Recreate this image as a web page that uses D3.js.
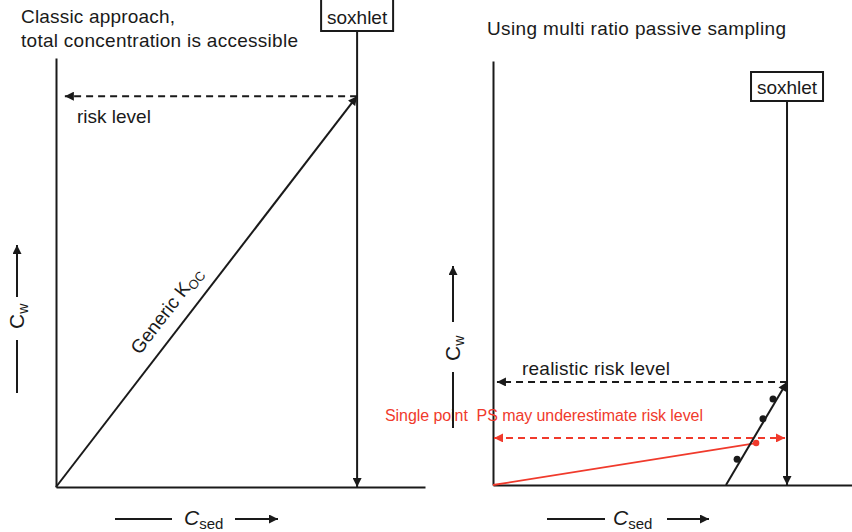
<!DOCTYPE html>
<html>
<head>
<meta charset="utf-8">
<script src="https://cdn.jsdelivr.net/npm/d3@7"></script>
<style>
  body { margin: 0; background: #fff; }
  text { font-family: "Liberation Sans", Arial, sans-serif; fill: #1a1a1a; white-space: pre; }
</style>
</head>
<body>
<div id="chart"></div>
<script>
// titles
const leftTitle = ["Classic approach,", "total concentration is accessible"];
const rightTitle = ["Using multi ratio passive sampling"];

// left panel (Csed, Cw in % of axis)
const leftSoxhletCsed = 81.6;
const leftRiskCw = 91.1;
const leftRiskArrowEnd = 2.4;
const kocLine = [[0, 0], [81.6, 91.1]];

// right panel
const rightSoxhletCsed = 81.9;
const realisticRiskCw = 24.3;
const realisticArrowEnd = 1.1;
const singlePointRiskCw = 11.1;
const multiRatioLine = [[64.9, 0], [81.9, 24.3]];
const multiRatioPoints = [[68.0, 6.1], [75.2, 15.6], [78.0, 20.3]];
const singlePointPS = [73.3, 9.9];

const ink = "#1a1a1a";
const red = "#f03a2c";

const drawChart = () => {
  const chartSize = { width: 852, height: 532 };
  const svg = d3.select("#chart").append("svg")
    .attr("width", chartSize.width)
    .attr("height", chartSize.height);

  const defs = svg.append("defs");
  const addMarker = (id, color) => {
    defs.append("marker")
      .attr("id", id)
      .attr("viewBox", "0 0 10 10")
      .attr("refX", 10).attr("refY", 5)
      .attr("markerWidth", 10).attr("markerHeight", 9)
      .attr("markerUnits", "userSpaceOnUse")
      .attr("orient", "auto-start-reverse")
      .append("path")
      .attr("d", "M0,0L10,5L0,10z")
      .attr("fill", color);
  };
  addMarker("arrow", ink);
  addMarker("arrow-red", red);

  const line = d3.line();

  // left panel
  const xL = d3.scaleLinear().domain([0, 100]).range([56, 425]);
  const yL = d3.scaleLinear().domain([0, 100]).range([487, 58]);

  // right panel
  const xR = d3.scaleLinear().domain([0, 100]).range([493, 852]);
  const yR = d3.scaleLinear().domain([0, 100]).range([485, 61]);

  const panels = [
    { x: xL, y: yL, title: leftTitle, titleX: 21, titleY: 23, widths: [154, 277] },
    { x: xR, y: yR, title: rightTitle, titleX: 487, titleY: 35, widths: [299] }
  ];

  panels.forEach(p => {
    const g = svg.append("g");
    g.append("g")
      .attr("transform", `translate(0,${p.y(0)})`)
      .call(d3.axisBottom(p.x).ticks(0).tickSizeOuter(0));
    g.append("g")
      .attr("transform", `translate(${p.x(0)},0)`)
      .call(d3.axisLeft(p.y).ticks(0).tickSizeOuter(0));
    g.selectAll(".domain").attr("stroke", ink).attr("stroke-width", 2);

    g.selectAll(".title").data(p.title).enter()
      .append("text")
      .attr("x", p.titleX)
      .attr("y", (d, i) => p.titleY + i * 24)
      .attr("font-size", 19)
      .attr("textLength", (d, i) => p.widths[i])
      .attr("lengthAdjust", "spacing")
      .text(d => d);
  });

  // soxhlet box + vertical arrow
  const soxhlet = (x, y, sox, boxTop, boxH) => {
    const cx = x(sox);
    svg.append("line")
      .attr("x1", cx).attr("x2", cx)
      .attr("y1", boxTop + boxH).attr("y2", y(0))
      .attr("stroke", ink).attr("stroke-width", 2)
      .attr("marker-end", "url(#arrow)");
    svg.append("rect")
      .attr("x", cx - 36).attr("y", boxTop)
      .attr("width", 72).attr("height", boxH)
      .attr("fill", "#fff").attr("stroke", ink).attr("stroke-width", 2);
    svg.append("text")
      .attr("x", cx).attr("y", boxTop + boxH - 7)
      .attr("text-anchor", "middle")
      .attr("font-size", 19)
      .text("soxhlet");
  };
  soxhlet(xL, yL, leftSoxhletCsed, -1, 32);
  soxhlet(xR, yR, rightSoxhletCsed, 72, 29);

  // left: risk level
  svg.append("line")
    .attr("x1", xL(leftSoxhletCsed)).attr("x2", xL(leftRiskArrowEnd))
    .attr("y1", yL(leftRiskCw)).attr("y2", yL(leftRiskCw))
    .attr("stroke", ink).attr("stroke-width", 2)
    .attr("stroke-dasharray", "7,5")
    .attr("marker-end", "url(#arrow)");
  svg.append("text")
    .attr("x", 77).attr("y", yL(leftRiskCw) + 27)
    .attr("font-size", 19)
    .text("risk level");

  // generic Koc line
  svg.append("path")
    .attr("d", line(kocLine.map(d => [xL(d[0]), yL(d[1])])))
    .attr("fill", "none").attr("stroke", ink).attr("stroke-width", 2)
    .attr("marker-end", "url(#arrow)");
  const k0 = [xL(kocLine[0][0]), yL(kocLine[0][1])];
  const k1 = [xL(kocLine[1][0]), yL(kocLine[1][1])];
  const ang = Math.atan2(k1[1] - k0[1], k1[0] - k0[0]) * 180 / Math.PI;
  const t = 0.42;
  const kocLabel = svg.append("text")
    .attr("transform", `translate(${k0[0] + t * (k1[0] - k0[0])},${k0[1] + t * (k1[1] - k0[1])}) rotate(${ang})`)
    .attr("y", -14)
    .attr("text-anchor", "middle")
    .attr("font-size", 19);
  kocLabel.append("tspan").text("Generic K");
  kocLabel.append("tspan").attr("font-size", 13).attr("dy", 4).text("OC");

  // right: realistic risk level
  svg.append("line")
    .attr("x1", xR(rightSoxhletCsed)).attr("x2", xR(realisticArrowEnd))
    .attr("y1", yR(realisticRiskCw)).attr("y2", yR(realisticRiskCw))
    .attr("stroke", ink).attr("stroke-width", 2)
    .attr("stroke-dasharray", "7,5")
    .attr("marker-end", "url(#arrow)");
  svg.append("text")
    .attr("x", 522).attr("y", yR(realisticRiskCw) - 7)
    .attr("font-size", 19)
    .attr("textLength", 148)
    .attr("lengthAdjust", "spacing")
    .text("realistic risk level");

  // single point PS
  svg.append("text")
    .attr("x", 385).attr("y", yR(singlePointRiskCw) - 17)
    .attr("font-size", 16)
    .attr("textLength", 318)
    .attr("lengthAdjust", "spacing")
    .style("fill", red)
    .text("Single point  PS may underestimate risk level");
  svg.append("line")
    .attr("x1", xR(0) + 1).attr("x2", xR(rightSoxhletCsed) - 2)
    .attr("y1", yR(singlePointRiskCw)).attr("y2", yR(singlePointRiskCw))
    .attr("stroke", red).attr("stroke-width", 2)
    .attr("stroke-dasharray", "7,5")
    .attr("marker-start", "url(#arrow-red)")
    .attr("marker-end", "url(#arrow-red)");
  svg.append("path")
    .attr("d", line([[0, 0], singlePointPS].map(d => [xR(d[0]), yR(d[1])])))
    .attr("fill", "none").attr("stroke", red).attr("stroke-width", 1.8);
  svg.append("circle")
    .attr("cx", xR(singlePointPS[0])).attr("cy", yR(singlePointPS[1]))
    .attr("r", 3.2).attr("fill", red);

  // multi ratio PS
  svg.append("path")
    .attr("d", line(multiRatioLine.map(d => [xR(d[0]), yR(d[1])])))
    .attr("fill", "none").attr("stroke", ink).attr("stroke-width", 2)
    .attr("marker-end", "url(#arrow)");
  svg.selectAll(".mr").data(multiRatioPoints).enter()
    .append("circle")
    .attr("cx", d => xR(d[0])).attr("cy", d => yR(d[1]))
    .attr("r", 3.5).attr("fill", ink);

  // axis labels
  const cwLabel = (cx, textStart, arrow, bar) => {
    svg.append("line")
      .attr("x1", cx).attr("x2", cx).attr("y1", arrow[0]).attr("y2", arrow[1])
      .attr("stroke", ink).attr("stroke-width", 2)
      .attr("marker-end", "url(#arrow)");
    svg.append("line")
      .attr("x1", cx).attr("x2", cx).attr("y1", bar[0]).attr("y2", bar[1])
      .attr("stroke", ink).attr("stroke-width", 2);
    const tx = svg.append("text")
      .attr("transform", `translate(${cx + 7},${textStart}) rotate(-90)`)
      .attr("font-size", 21);
    tx.append("tspan").text("C");
    tx.append("tspan").attr("font-size", 14).attr("dy", 4).text("w");
  };
  cwLabel(17, 329, [297, 245], [340, 393]);
  cwLabel(453, 361, [322, 266], [372, 428]);

  const csedLabel = (textX, bar, arrow, y) => {
    svg.append("line")
      .attr("x1", bar[0]).attr("x2", bar[1]).attr("y1", y).attr("y2", y)
      .attr("stroke", ink).attr("stroke-width", 2);
    svg.append("line")
      .attr("x1", arrow[0]).attr("x2", arrow[1]).attr("y1", y).attr("y2", y)
      .attr("stroke", ink).attr("stroke-width", 2)
      .attr("marker-end", "url(#arrow)");
    const tx = svg.append("text")
      .attr("x", textX).attr("y", y + 6)
      .attr("font-size", 21);
    tx.append("tspan").attr("font-style", "italic").text("C");
    tx.append("tspan").attr("font-size", 15).attr("dy", 4).text("sed");
  };
  csedLabel(184, [115, 172], [235, 278], 519);
  csedLabel(613, [547, 605], [667, 709], 519);
};

window.onload = drawChart;
</script>
</body>
</html>
